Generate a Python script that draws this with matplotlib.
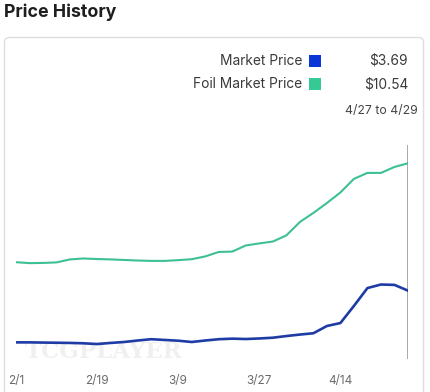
import pandas as pd
import numpy as np
import matplotlib
matplotlib.use('Agg')
import matplotlib.pyplot as plt
from matplotlib.patches import FancyBboxPatch, Rectangle

# =========================
# Данные
# =========================
dates = pd.date_range(start='2023-02-01', periods=30, freq='3D')

market_price = [0.91, 0.91, 0.90, 0.89, 0.88, 0.86, 0.82, 0.88, 0.93, 1.01,
                1.08, 1.04, 1.00, 0.93, 1.01, 1.08, 1.11, 1.09, 1.12, 1.16,
                1.25, 1.33, 1.40, 1.79, 1.95, 2.87, 3.83, 4.02, 4.00, 3.69]

foil_price = [5.22, 5.17, 5.18, 5.21, 5.37, 5.42, 5.39, 5.37, 5.34, 5.31,
              5.29, 5.29, 5.33, 5.38, 5.53, 5.77, 5.79, 6.12, 6.23, 6.33,
              6.66, 7.38, 7.87, 8.40, 8.97, 9.70, 10.02, 10.02, 10.34, 10.54]

series_names = ['Market Price', 'Foil Market Price']
tick_dates = ['2023-02-01', '2023-02-19', '2023-03-09', '2023-03-27', '2023-04-14']
range_label = '4/27 to 4/29'

line_colors = ['#1f3ba6', '#3dc094']
box_colors = ['#0b36d6', '#35c994']

plt.rcParams['font.family'] = ['Inter', 'DejaVu Sans']

W, H = 430, 392
fig = plt.figure(figsize=(W / 100, H / 100), dpi=100)

# карточка (под осями)
card = FancyBboxPatch((4.5 / W, -0.05), 419 / W, (H - 37.5) / H + 0.05,
                      boxstyle='round,pad=0,rounding_size=0.012',
                      transform=fig.transFigure, facecolor='white',
                      edgecolor='#dedede', linewidth=1.0, zorder=-5)
fig.patches.append(card)

fig.text(4 / W, 1 - 12 / H, 'Price History', fontsize=12.8, fontweight='bold',
         color='#1e1e1e', va='center', ha='left')

# водяной знак
fig.text(25 / W, 1 - 352 / H, 'TCGPLAYER', fontsize=16.5, fontweight='bold',
         family='DejaVu Serif', color='#f0f0f0', va='center', ha='left', zorder=-1)

# =========================
# Основной график
# =========================
ax_left, ax_right = 16 / W, 408 / W
ax_bottom, ax_top = 1 - 359.3 / H, 1 - 145 / H
ax = fig.add_axes([ax_left, ax_bottom, ax_right - ax_left, ax_top - ax_bottom])
ax.set_facecolor('none')
ax.set_zorder(2)

ax.plot(dates, foil_price, color=line_colors[1], linewidth=1.5, zorder=3)
ax.plot(dates, market_price, color=line_colors[0], linewidth=1.9, zorder=3)
ax.axvline(dates[-1], color='#9a9a9a', linewidth=1.2, zorder=2)

ax.set_xlim(dates[0], dates[-1])
ax.set_ylim(0, 11.52)
for s in ax.spines.values():
    s.set_visible(False)
ax.set_yticks([])
ticks = pd.to_datetime(tick_dates)
ax.set_xticks(ticks)
ax.set_xticklabels([f'{d.month}/{d.day}' for d in ticks])
ax.tick_params(axis='x', length=0, pad=11, labelsize=8.5, labelcolor='#6b6b6b')

# =========================
# Легенда
# =========================
values = [market_price[-1], foil_price[-1]]
for i, (name, val) in enumerate(zip(series_names, values)):
    yc = 1 - (61 + 23 * i) / H
    fig.text(302 / W, yc, name, fontsize=9.9, color='#3a3a3a', ha='right', va='center')
    fig.patches.append(Rectangle((309 / W, yc - 6 / H), 12 / W, 12 / H,
                                 transform=fig.transFigure, facecolor=box_colors[i],
                                 edgecolor='none'))
    fig.text(408 / W, yc, f'${val:.2f}', fontsize=9.9, color='#3a3a3a', ha='right', va='center')

fig.text(418 / W, 1 - 111 / H, range_label,
         fontsize=8.8, color='#444444', ha='right', va='center')

fig.savefig('out.png', dpi=100)
